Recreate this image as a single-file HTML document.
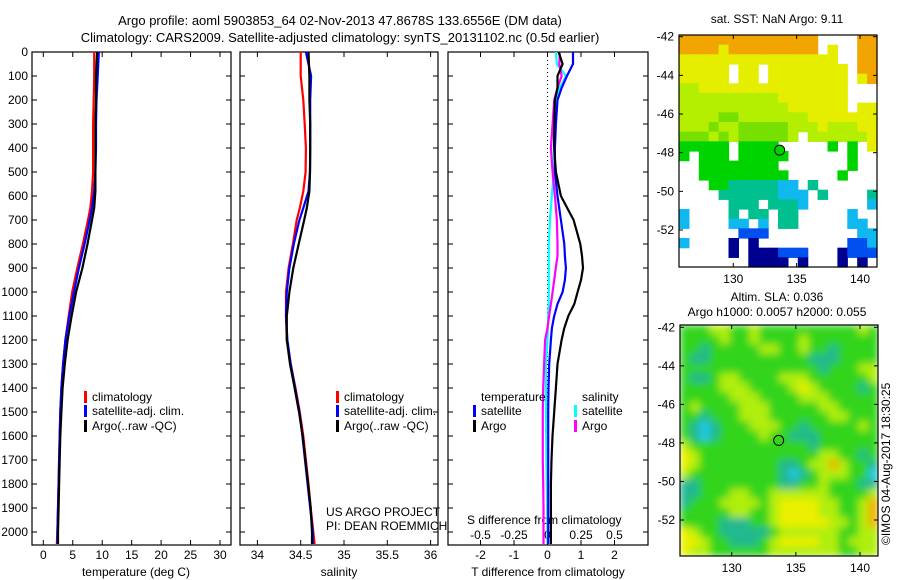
<!DOCTYPE html>
<html><head><meta charset="utf-8"><style>
html,body{margin:0;padding:0;background:#fff;}
svg{display:block;font-family:"Liberation Sans",sans-serif;}
text{font-size:12px;fill:#000;}
</style></head><body>
<svg id="fig" width="900" height="580" viewBox="0 0 900 580">
<defs>
<filter id="blur" x="0" y="0" width="1" height="1"><feGaussianBlur stdDeviation="4" edgeMode="duplicate"/></filter>
<clipPath id="slaClip"><rect x="680" y="325" width="198" height="231"/></clipPath>
</defs>
<text x="340" y="25" text-anchor="middle" style="font-size:13px">Argo profile: aoml 5903853_64 02-Nov-2013 47.8678S 133.6556E (DM data)</text>
<text x="340" y="42" text-anchor="middle" style="font-size:13px">Climatology: CARS2009. Satellite-adjusted climatology: synTS_20131102.nc (0.5d earlier)</text>
<text x="777" y="23" text-anchor="middle">sat. SST: NaN Argo: 9.11</text>
<text x="777" y="301" text-anchor="middle">Altim. SLA: 0.036</text>
<text x="777" y="316" text-anchor="middle">Argo h1000: 0.0057 h2000: 0.055</text>
<text transform="translate(890,545) rotate(-90)">©IMOS 04-Aug-2017 18:30:25</text>
<text x="326" y="516">US ARGO PROJECT</text>
<text x="326" y="530">PI: DEAN ROEMMICH</text>
<text x="467" y="524">S difference from climatology</text>
<text x="136" y="576" text-anchor="middle">temperature (deg C)</text>
<text x="339" y="576" text-anchor="middle">salinity</text>
<text x="548" y="576" text-anchor="middle">T difference from climatology</text>
</svg>
<script>
// ---- data ----
const depthAxisTicks=[0,100,200,300,400,500,600,700,800,900,1000,1100,1200,1300,1400,1500,1600,1700,1800,1900,2000];
const profDepths=[0,100,200,300,400,500,580,650,700,800,900,1000,1100,1200,1300,1400,1500,1600,1700,1800,1900,2000,2050];
const tempClim=[8.65,8.65,8.55,8.46,8.46,8.46,8.26,7.98,7.59,6.73,5.77,4.9,4.32,3.75,3.36,3.08,2.88,2.79,2.69,2.6,2.5,2.4,2.3];
const tempSat=[9.42,9.23,9.03,8.94,8.94,8.84,8.65,8.26,7.88,7.02,6.05,5.19,4.42,3.75,3.36,3.08,2.88,2.79,2.69,2.6,2.5,2.4,2.4];
const tempArgo=[9.13,8.94,8.94,8.84,8.84,8.84,8.84,8.65,8.26,7.5,6.63,5.57,4.8,4.13,3.65,3.27,3.08,2.88,2.79,2.69,2.6,2.5,2.5];
const salClim=[34.50,34.50,34.53,34.546,34.56,34.557,34.53,34.49,34.454,34.41,34.36,34.33,34.33,34.34,34.385,34.44,34.49,34.53,34.56,34.59,34.615,34.646,34.66];
const salSat=[34.56,34.62,34.61,34.61,34.61,34.607,34.59,34.53,34.485,34.42,34.37,34.34,34.33,34.346,34.385,34.435,34.485,34.52,34.55,34.58,34.61,34.64,34.64];
const salArgo=[34.59,34.6,34.6,34.61,34.61,34.607,34.6,34.57,34.54,34.477,34.415,34.37,34.34,34.34,34.377,34.43,34.48,34.523,34.554,34.585,34.615,34.63,34.63];
const diffDepths=[0,50,100,150,200,300,400,500,600,700,800,850,900,950,1000,1050,1100,1150,1200,1300,1400,1500,1600,1700,1800,1900,2000,2050];
const dTArgo=[0.33,0.45,0.3,0.3,0.22,0.2,0.2,0.25,0.4,0.78,0.98,1.03,1.06,1.0,0.9,0.8,0.62,0.5,0.42,0.3,0.25,0.2,0.15,0.12,0.1,0.1,0.1,0.1];
const dTSat=[0.76,0.76,0.58,0.42,0.3,0.25,0.22,0.22,0.3,0.4,0.5,0.52,0.55,0.52,0.45,0.3,0.2,0.13,0.1,0.05,0.03,0.02,0.02,0.02,0.02,0.02,0.02,0.02];
const dSArgo=[0.092,0.088,0.105,0.075,0.05,0.038,0.025,0.038,0.055,0.07,0.075,0.075,0.062,0.05,0.038,0.025,0.012,0,-0.018,-0.025,-0.032,-0.035,-0.035,-0.035,-0.032,-0.03,-0.03,-0.03];
const dSSat=[0.062,0.07,0.138,0.092,0.062,0.05,0.048,0.048,0.032,0.018,0.01,0.01,0.01,0.01,0.01,0.008,0.005,0.002,0,-0.012,-0.012,-0.012,-0.01,-0.008,-0.005,-0.002,0,0];
const tTicks=[0,5,10,15,20,25,30];
const sTicks=[34,34.5,35,35.5,36];
const sTickLabels=["34","34.5","35","35.5","36"];
const dTTicks=[-2,-1,0,1,2];
const dSTicks=[-0.5,-0.25,0,0.25,0.5];
const dSTickLabels=["-0.5","-0.25","0","0.25","0.5"];
const latTicks=[-42,-44,-46,-48,-50,-52];
const lonTicks=[130,135,140];
const argoLon=133.66, argoLat=-47.87;
const sstGrid=[
"oooooooooooooo....oo",
"ooooyooooooooo.y..oo",
"yyyyyyyyyyyyyyyy..oo",
"yyyyy.yy.yyyyyyyy.oo",
"yyyyy.yy.yyyyyyyy.yo",
"llyyyyyyyyyyyyyyy...",
"llllllllllyyyyyyy...",
"lllllllllllyyyyyy.yy",
"llllgglllllllyyyyyyy",
"lllgllggggglllylllyy",
"ggglglgggggl.lllllly",
"GGGGG.GGGG.....G.G.y",
"G.GGG.GGGGG......G..",
"..GGGGGGGG.......G..",
"..GGGGGGGGG.....G...",
"...GGtttttcc.t......",
"....ttttttccc.t....t",
".....ttt.tttc......c",
"c....t.tt.tt.....c..",
"c....cc.c.tt.....cc.",
"......bbb.........cc",
"c....d.d.........bbc",
".....d.dddbbb...dbbb",
".......dddd.d...d.d."];
const slaGrid=[
"gggyyggyggggggggggyg",
"ggggyggyggggyggggggg",
"ggcgggggyyggyggcgggg",
"gccggggggggggcccgggg",
"ggggggggggggggcgggyy",
"gccgyyggggyyyggggggy",
"ggggyyyggggyYyggggcg",
"gggggyyyggggyyyggggg",
"gyggggyyygggggyygggg",
"ggcgggyyyggggggyyggg",
"gcCcgggyyyggcgggggyg",
"gcCcggggyggcccgggggg",
"yggggggggggggcgggggg",
"Yyggggggggggggyyggcg",
"Yyggggggggccgyyoyggc",
"ygggggggggcCcgyyyggC",
"ccggggggggccggygggcc",
"ccgggyyggyyyyyyggggy",
"cgggyyyygyYYYYyyggyo",
"gggggyyggyYYYYyyggyo",
"ggggcccggyYYYYYyygyo",
"Yyggcccccgyyyyyyggyy",
"YYyggcccgyYYYYyygyyy",
"Yyyggggggyyyyyyyggyy"];
</script>
<script>
const NS="http://www.w3.org/2000/svg";
const svg=document.getElementById('fig');
function mk(tag,attrs,parent){const e=document.createElementNS(NS,tag);for(const k in attrs)e.setAttribute(k,attrs[k]);(parent||svg).appendChild(e);return e;}
const Y0=52, Y1=545;
function yD(d){return Y0+d*0.24;}
function lin(d0,d1,r0,r1){return v=>r0+(v-d0)*(r1-r0)/(d1-d0);}
const panels=[
 {x0:32,x1:231,fx:lin(0,30,43.3,220),name:'temperature-panel'},
 {x0:240,x1:438,fx:lin(34.5,35,300.7,344),name:'salinity-panel'},
 {x0:448,x1:648,fx:lin(0,2,547.5,614.5),name:'diff-panel'}];
panels.forEach((p,i)=>{
  const r=mk('rect',{x:p.x0,y:Y0,width:p.x1-p.x0,height:Y1-Y0,fill:'none',stroke:'#000','stroke-width':1.2});
  
  
  depthAxisTicks.forEach(d=>{
    const y=yD(d);
    const t=mk('line',{x1:p.x0,x2:p.x0+5,y1:y,y2:y,stroke:'#000'});
    
    
    mk('line',{x1:p.x1,x2:p.x1-5,y1:y,y2:y,stroke:'#000'});
    if(i===0){const tx=mk('text',{x:28,y:y+4,'text-anchor':'end'});tx.textContent=d;
      
      }
  });
});
function xtick(x,label,p,yl){
  mk('line',{x1:x,x2:x,y1:Y1,y2:Y1-5,stroke:'#000'});
  mk('line',{x1:x,x2:x,y1:Y0,y2:Y0+5,stroke:'#000'});
  const t=mk('text',{x:x,y:yl||559,'text-anchor':'middle'});t.textContent=label;
  
  
}
tTicks.forEach(v=>xtick(panels[0].fx(v),v));
sTicks.forEach((v,i)=>xtick(panels[1].fx(v),sTickLabels[i]));
dTTicks.forEach(v=>xtick(panels[2].fx(v),v));
dSTicks.forEach((v,i)=>{const t=mk('text',{x:panels[2].fx(v*4),y:539,'text-anchor':'middle'});t.textContent=dSTickLabels[i];
  
  });
const zl=mk('line',{x1:547.5,x2:547.5,y1:Y0,y2:Y1,stroke:'#000','stroke-dasharray':'1,3'});


function profile(depths,vals,fx,color,name){
  const pts=depths.map((d,i)=>fx(vals[i]).toFixed(1)+','+yD(d).toFixed(1)).join(' ');
  const pl=mk('polyline',{points:pts,fill:'none',stroke:color,'stroke-width':2.2});
  
  
}
profile(profDepths,tempClim,panels[0].fx,'#ff0000','temp-climatology-line');
profile(profDepths,tempSat,panels[0].fx,'#0000ff','temp-satellite-line');
profile(profDepths,tempArgo,panels[0].fx,'#000','temp-argo-line');
profile(profDepths,salClim,panels[1].fx,'#ff0000','sal-climatology-line');
profile(profDepths,salSat,panels[1].fx,'#0000ff','sal-satellite-line');
profile(profDepths,salArgo,panels[1].fx,'#000','sal-argo-line');
const fS=v=>panels[2].fx(v*4);
profile(diffDepths,dSSat,fS,'#00ffff','s-diff-satellite-line');
profile(diffDepths,dSArgo,fS,'#ff00ff','s-diff-argo-line');
profile(diffDepths,dTSat,panels[2].fx,'#0000ff','t-diff-satellite-line');
profile(diffDepths,dTArgo,panels[2].fx,'#000','t-diff-argo-line');
function legend(x,y,label,color){
  const b=mk('rect',{x:x,y:y-10,width:3,height:12,fill:color});
  
  
  const t=mk('text',{x:x+8,y:y});t.textContent=label;
  
  
}
legend(84,401,'climatology','#ff0000');legend(336,401,'climatology','#ff0000');
legend(84,415,'satellite-adj. clim.','#0000ff');legend(336,415,'satellite-adj. clim.','#0000ff');
legend(84,430,'Argo(..raw -QC)','#000');legend(336,430,'Argo(..raw -QC)','#000');
{const t=mk('text',{x:481,y:401});t.textContent='temperature';}
{const t=mk('text',{x:582,y:401});t.textContent='salinity';}
legend(473,415,'satellite','#0000ff');legend(473,430,'Argo','#000');
legend(574,415,'satellite','#00ffff');legend(574,430,'Argo','#ff00ff');
// maps
const sstColors={o:'#f2a400',y:'#e6ee00',l:'#b4ee00',g:'#78e000',G:'#00d400',t:'#00c090',c:'#10b8f0',b:'#0050f0',d:'#000090'};
const slaColors={g:'#30d41a',y:'#b0ee10',Y:'#eaf000',o:'#f0b000',c:'#20b890',C:'#20c8e8'};
function map(m,grid,colors,name,smooth){
  const rows=grid.length, cols=grid[0].length;
  const cw=(m.x1-m.x0)/cols, ch=(m.y1-m.y0)/rows;
  let host=svg;
  if(smooth){
    const outer=mk('g',{'clip-path':'url(#slaClip)'});
    host=mk('g',{filter:'url(#blur)'},outer);
    
    
  }
  grid.forEach((row,r)=>{[...row].forEach((c,k)=>{
    if(c==='.')return;
    const cell=mk('rect',{x:(m.x0+k*cw).toFixed(2),y:(m.y0+r*ch).toFixed(2),width:(cw+0.6).toFixed(2),height:(ch+0.6).toFixed(2),fill:colors[c]},host);
    
    
  });});
  const fr=mk('rect',{x:m.x0,y:m.y0,width:m.x1-m.x0,height:m.y1-m.y0,fill:'none',stroke:'#000','stroke-width':1.2});
  
  
  const fx=lin(130,140,m.l130,m.l140), fy=lin(-42,-52,m.la42,m.la52);
  latTicks.forEach(v=>{const y=fy(v);
    mk('line',{x1:m.x0,x2:m.x0+4,y1:y,y2:y,stroke:'#000'});
    mk('line',{x1:m.x1,x2:m.x1-4,y1:y,y2:y,stroke:'#000'});
    const t=mk('text',{x:m.x0-5,y:y+4,'text-anchor':'end'});t.textContent=v;
    
    });
  lonTicks.forEach(v=>{const x=fx(v);
    mk('line',{x1:x,x2:x,y1:m.y1,y2:m.y1-4,stroke:'#000'});
    mk('line',{x1:x,x2:x,y1:m.y0,y2:m.y0+4,stroke:'#000'});
    const t=mk('text',{x:x,y:m.y1+16,'text-anchor':'middle'});t.textContent=v;
    
    });
  const c=mk('circle',{cx:fx(argoLon),cy:fy(argoLat),r:5,fill:m.dot,stroke:'#000','stroke-width':1});
  
  
}
map({x0:679,x1:877,y0:35,y1:267,l130:733.3,l140:860,la42:36.7,la52:230,dot:'#00d400'},sstGrid,sstColors,'sst-map',false);
map({x0:680,x1:878,y0:325,y1:556,l130:731.7,l140:860,la42:327.3,la52:520,dot:'none'},slaGrid,slaColors,'sla-map',true);
</script>
</body></html>
